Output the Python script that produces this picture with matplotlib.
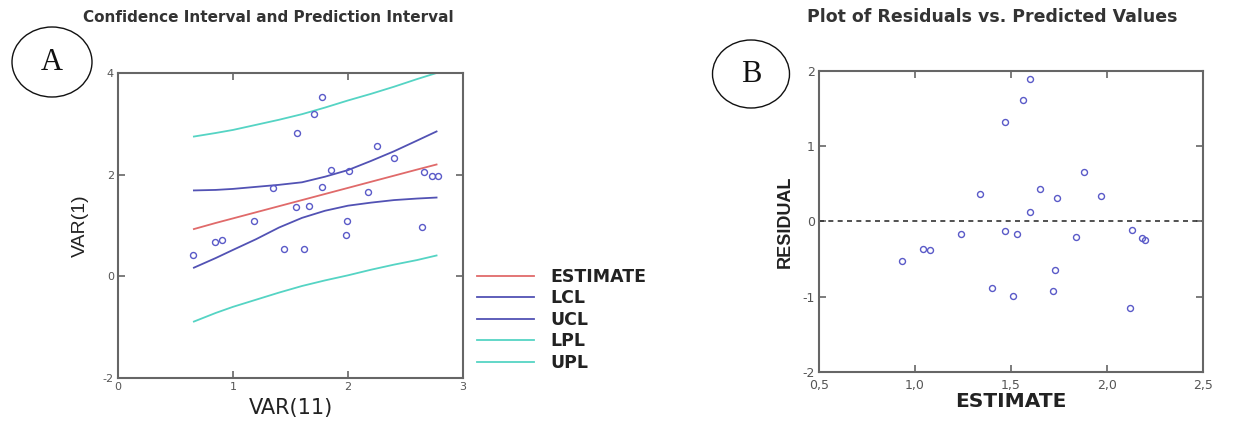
import matplotlib
matplotlib.use("Agg")
import matplotlib.pyplot as plt
from matplotlib.patches import Ellipse

plt.rcParams['font.family'] = ['DejaVu Sans']
plt.rcParams['axes.unicode_minus'] = False

# ---------------- data (panel A) ----------------
x_obs = [0.65, 0.84, 0.90, 1.18, 1.35, 1.44, 1.55, 1.56, 1.62, 1.66, 1.70, 1.77,
         1.77, 1.85, 1.98, 1.99, 2.01, 2.17, 2.25, 2.40, 2.64, 2.66, 2.73, 2.78]
y_obs = [0.41, 0.68, 0.72, 1.09, 1.73, 0.53, 1.36, 2.82, 0.53, 1.38, 3.20, 3.52,
         1.75, 2.09, 0.81, 1.09, 2.07, 1.65, 2.57, 2.33, 0.97, 2.05, 1.97, 1.97]

curve_x = [0.66, 0.85, 1.0, 1.2, 1.4, 1.6, 1.8, 2.0, 2.2, 2.4, 2.6, 2.77]
est = [0.93, 1.05, 1.14, 1.26, 1.38, 1.50, 1.62, 1.74, 1.86, 1.98, 2.10, 2.20]
lcl = [0.17, 0.36, 0.52, 0.73, 0.96, 1.15, 1.29, 1.39, 1.45, 1.50, 1.53, 1.55]
ucl = [1.69, 1.70, 1.72, 1.76, 1.80, 1.85, 1.96, 2.09, 2.27, 2.46, 2.67, 2.85]
lpl = [-0.89, -0.72, -0.60, -0.46, -0.32, -0.19, -0.08, 0.02, 0.13, 0.23, 0.32, 0.41]
upl = [2.75, 2.82, 2.88, 2.98, 3.08, 3.19, 3.32, 3.46, 3.59, 3.73, 3.88, 4.00]

a_xticks = [0, 1, 2, 3]
a_yticks = [-2, 0, 2, 4]

# ---------------- data (panel B) ----------------
estimate = [0.93, 1.04, 1.08, 1.24, 1.34, 1.40, 1.47, 1.47, 1.51, 1.53, 1.56, 1.60,
            1.60, 1.65, 1.72, 1.73, 1.74, 1.84, 1.88, 1.97, 2.12, 2.13, 2.18, 2.20]
residual = [-0.53, -0.37, -0.38, -0.16, 0.37, -0.89, -0.13, 1.32, -0.99, -0.16, 1.62, 1.90,
            0.13, 0.43, -0.92, -0.64, 0.31, -0.21, 0.66, 0.34, -1.15, -0.11, -0.22, -0.24]

b_xticks = [0.5, 1.0, 1.5, 2.0, 2.5]
b_xticklabels = ['0,5', '1,0', '1,5', '2,0', '2,5']
b_yticks = [-2, -1, 0, 1, 2]

W, H = 1251, 425
fig = plt.figure(figsize=(W / 100, H / 100), dpi=100)

spine_c = '#666666'
tick_c = '#555555'
pt_c = '#5a5ac8'
red_c = '#e06a6a'
blue_c = '#5252b4'
cyan_c = '#55d4c4'


def style(ax, fs, xpad=3):
    for s in ax.spines.values():
        s.set_color(spine_c)
        s.set_linewidth(1.5)
    ax.tick_params(direction='in', length=5, width=1.2, color=spine_c,
                   top=True, right=True, labelsize=fs, labelcolor=tick_c, pad=3)
    ax.tick_params(axis='x', pad=xpad)


# ---------------- panel A ----------------
axA = fig.add_axes([118 / W, 1 - 378 / H, 345 / W, 305 / H])
axA.plot(curve_x, est, color=red_c, lw=1.3, label='ESTIMATE')
axA.plot(curve_x, lcl, color=blue_c, lw=1.3, label='LCL')
axA.plot(curve_x, ucl, color=blue_c, lw=1.3, label='UCL')
axA.plot(curve_x, lpl, color=cyan_c, lw=1.3, label='LPL')
axA.plot(curve_x, upl, color=cyan_c, lw=1.3, label='UPL')
axA.plot(x_obs, y_obs, 'o', mfc='none', mec=pt_c, ms=4.3, mew=1.0, ls='none')
axA.set_xlim(0, 3)
axA.set_ylim(-2, 4)
axA.set_xticks(a_xticks)
axA.set_yticks(a_yticks)
style(axA, 8)
axA.set_xlabel('VAR(11)', fontsize=15, color='#222222', labelpad=4)
axA.set_ylabel('VAR(1)', fontsize=14, color='#222222', labelpad=10,
               family='Liberation Sans')
fig.text(268 / W, 1 - 18 / H, 'Confidence Interval and Prediction Interval',
         ha='center', va='center', fontsize=11, fontweight='bold', color='#333333')
leg = axA.legend(loc='upper left', bbox_to_anchor=(477 / W, 1 - 268 / H),
                 bbox_transform=fig.transFigure, frameon=False,
                 prop={'size': 12.5, 'weight': 'bold'},
                 handlelength=3.3, handletextpad=0.95, labelspacing=0.2,
                 borderpad=0, borderaxespad=0)
for t in leg.get_texts():
    t.set_color('#222222')

# ---------------- panel B ----------------
axB = fig.add_axes([819 / W, 1 - 372 / H, 384 / W, 301 / H])
axB.axhline(0, color='#333333', lw=1.2, ls=(0, (3, 2.6)))
axB.plot(estimate, residual, 'o', mfc='none', mec=pt_c, ms=4.3, mew=1.0, ls='none')
axB.set_xlim(0.5, 2.5)
axB.set_ylim(-2, 2)
axB.set_xticks(b_xticks)
axB.set_xticklabels(b_xticklabels)
axB.set_yticks(b_yticks)
style(axB, 9, xpad=5)
axB.set_xlabel('ESTIMATE', fontsize=14.5, fontweight='bold', color='#222222', labelpad=0)
axB.set_ylabel('RESIDUAL', fontsize=13, fontweight='bold', color='#222222', labelpad=6,
               family='Liberation Sans')
fig.text(992 / W, 1 - 17 / H, 'Plot of Residuals vs. Predicted Values',
         ha='center', va='center', fontsize=12.5, fontweight='bold', color='#333333')

# ---------------- panel letters ----------------
for cx, cy, w, h, lab in [(52, 62, 80, 70, 'A'), (751, 74, 77, 68, 'B')]:
    e = Ellipse((cx / W, 1 - cy / H), w / W, h / H, transform=fig.transFigure,
                fill=False, ec='#111111', lw=1.0)
    fig.add_artist(e)
    fig.text(cx / W, 1 - (cy + 1) / H, lab, ha='center', va='center',
             fontsize=22, family='Liberation Serif', color='#111111')

fig.savefig('out.png', dpi=100)
